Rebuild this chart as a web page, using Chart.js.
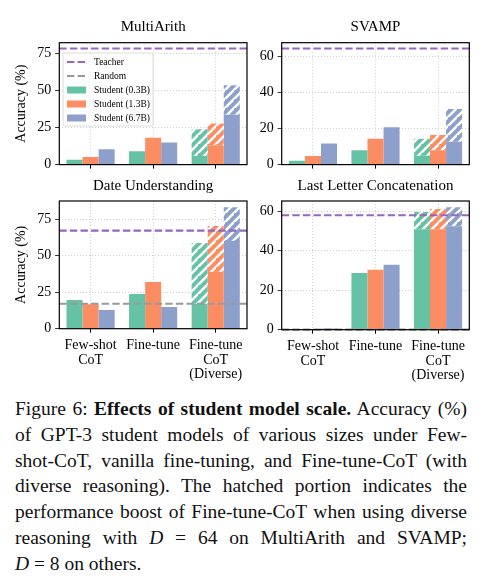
<!DOCTYPE html>
<html>
<head>
<meta charset="utf-8">
<script src="https://cdn.jsdelivr.net/npm/chart.js@4/dist/chart.umd.min.js"></script>
<style>
  body { margin: 0; background: #fff; width: 483px; height: 581px; position: relative; overflow: hidden; font-family: "Liberation Serif", "Times New Roman", Times, serif; }
  canvas.c { position: absolute; }
  #cap { position: absolute; left: 15px; top: 396px; width: 452px; font-size: 19.5px; line-height: 25.8px; color: #111; }
  #cap div { text-align: justify; text-align-last: justify; }
  #cap div.last { text-align-last: left; }
</style>
</head>
<body>
<canvas class="c" id="c1" width="250" height="177" style="left:0;top:0"></canvas>
<canvas class="c" id="c2" width="233" height="177" style="left:250px;top:0"></canvas>
<canvas class="c" id="c3" width="250" height="210" style="left:0;top:177px"></canvas>
<canvas class="c" id="c4" width="233" height="210" style="left:250px;top:177px"></canvas>
<div id="cap">
  <div>Figure 6: <b>Effects of student model scale.</b> Accuracy (%)</div>
  <div>of GPT-3 student models of various sizes under Few-</div>
  <div>shot-CoT, vanilla fine-tuning, and Fine-tune-CoT (with</div>
  <div>diverse reasoning). The hatched portion indicates the</div>
  <div>performance boost of Fine-tune-CoT when using diverse</div>
  <div>reasoning with <i>D</i> = 64 on MultiArith and SVAMP;</div>
  <div class="last"><i>D</i> = 8 on others.</div>
</div>
<script>
// categories and series
const methods = [['Few-shot', 'CoT'], 'Fine-tune', ['Fine-tune', 'CoT', '(Diverse)']];
const students = ['Student (0.3B)', 'Student (1.3B)', 'Student (6.7B)'];
const colors = ['#66c2a5', '#fc8d62', '#8da0cb'];

// MultiArith (few-shot, fine-tune, fine-tune-cot)
const multiS03 = [3.3, 9.0, 5.8];
const multiS13 = [5.2, 18.1, 13.1];
const multiS67 = [10.3, 14.9, 33.6];
const multiDiverse = [23.9, 27.8, 53.6];
const multiTeacher = 78.4;

// SVAMP
const svampS03 = [2.1, 7.9, 4.9];
const svampS13 = [4.8, 14.3, 7.9];
const svampS67 = [11.6, 20.6, 12.7];
const svampDiverse = [14.3, 16.4, 30.7];
const svampTeacher = 64.2;

// Date Understanding
const dateS03 = [19.7, 23.8, 17.1];
const dateS13 = [16.7, 32.0, 39.0];
const dateS67 = [12.8, 14.9, 60.1];
const dateDiverse = [58.7, 70.3, 83.2];
const dateTeacher = 67.2;
const dateRandom = 17.1;

// Last Letter Concatenation
const letterS03 = [0.1, 28.7, 50.8];
const letterS13 = [0.1, 30.3, 50.8];
const letterS67 = [0.6, 32.8, 52.3];
const letterDiverse = [59.5, 61.0, 62.0];
const letterTeacher = 57.9;
const letterRandom = 0;

const serif = '"Liberation Serif", "Times New Roman", Times, serif';

function hatch(color) {
  const c = document.createElement('canvas');
  c.width = 9; c.height = 9;
  const g = c.getContext('2d');
  g.fillStyle = color;
  g.fillRect(0, 0, 9, 9);
  g.strokeStyle = '#fff';
  g.lineWidth = 2.5;
  g.beginPath();
  g.moveTo(-1, 10); g.lineTo(10, -1);
  g.moveTo(-5.5, 4.5); g.lineTo(4.5, -5.5);
  g.moveTo(4.5, 13.5); g.lineTo(13.5, 4.5);
  g.stroke();
  return g.createPattern(c, 'repeat');
}

// teacher / random reference lines, drawn over the bars
const refLines = {
  id: 'refLines',
  afterDatasetsDraw(chart, args, o) {
    const {ctx, chartArea: a, scales: {y}} = chart;
    ctx.save();
    ctx.lineWidth = 2.2;
    ctx.setLineDash([7.4, 3.2]);
    [[o.random, '#999999'], [o.teacher, '#9467bd']].forEach(([v, col]) => {
      if (v === null || v === undefined) return;
      const py = y.getPixelForValue(v);
      ctx.strokeStyle = col;
      ctx.beginPath();
      ctx.moveTo(a.left, py);
      ctx.lineTo(a.right, py);
      ctx.stroke();
    });
    ctx.restore();
  }
};

// full box round the plot, like the matplotlib spines
const frame = {
  id: 'frame',
  afterDraw(chart) {
    const {ctx, chartArea: a} = chart;
    ctx.save();
    ctx.strokeStyle = '#000';
    ctx.lineWidth = 1.2;
    ctx.strokeRect(a.left, a.top, a.right - a.left, a.bottom - a.top);
    ctx.restore();
  }
};

// legend inside the first panel
const legendBox = {
  id: 'legendBox',
  afterDraw(chart, args, o) {
    if (!o.show) return;
    const {ctx, chartArea: a} = chart;
    const x = a.left + 3.7, y = a.top + 10.3, w = 90, h = 73;
    ctx.save();
    ctx.fillStyle = 'rgba(255,255,255,0.8)';
    ctx.strokeStyle = '#d6d6d6';
    ctx.lineWidth = 0.8;
    ctx.beginPath();
    ctx.roundRect(x, y, w, h, 2);
    ctx.fill();
    ctx.stroke();
    const items = [
      {label: 'Teacher', line: '#9467bd'},
      {label: 'Random', line: '#999999'},
      {label: students[0], box: colors[0]},
      {label: students[1], box: colors[1]},
      {label: students[2], box: colors[2]}
    ];
    ctx.font = '9.5px ' + serif;
    ctx.textBaseline = 'middle';
    items.forEach((it, i) => {
      const cy = y + 9 + i * 14;
      if (it.line) {
        ctx.strokeStyle = it.line;
        ctx.lineWidth = 2.2;
        ctx.setLineDash([7.4, 3.2]);
        ctx.beginPath();
        ctx.moveTo(x + 4, cy);
        ctx.lineTo(x + 23, cy);
        ctx.stroke();
        ctx.setLineDash([]);
      } else {
        ctx.fillStyle = it.box;
        ctx.fillRect(x + 4, cy - 3.5, 19, 7);
      }
      ctx.fillStyle = '#000';
      ctx.fillText(it.label, x + 31, cy + 0.5);
    });
    ctx.restore();
  }
};

function makeChart(id, o) {
  const series = o.series;
  const datasets = [];
  series.forEach((vals, i) => {
    datasets.push({label: students[i], data: vals, backgroundColor: colors[i], stack: 's' + i});
    datasets.push({
      label: students[i] + ' (diverse)',
      data: vals.map((v, j) => j === 2 ? o.diverse[i] - v : 0),
      backgroundColor: hatch(colors[i]),
      stack: 's' + i
    });
  });
  const grid = {color: '#c4c4c4', lineWidth: 0.8, tickColor: '#000', tickLength: 4, tickWidth: 1, tickBorderDash: [1, 0], offset: false};
  return new Chart(document.getElementById(id), {
    type: 'bar',
    data: {labels: methods, datasets},
    options: {
      responsive: false,
      animation: false,
      layout: {padding: {right: o.padRight}},
      datasets: {bar: {categoryPercentage: 0.77, barPercentage: 1.0, borderWidth: 0}},
      plugins: {
        legend: {display: false},
        tooltip: {enabled: false},
        title: {
          display: true, text: o.title, color: '#000', fullSize: false,
          font: {family: serif, size: 15, weight: 'normal', lineHeight: 1.2},
          padding: o.titlePad
        },
        refLines: {teacher: o.teacher, random: o.random},
        legendBox: {show: !!o.legend}
      },
      scales: {
        x: {
          offset: true,
          grid: grid,
          border: {display: false, dash: [1, 2]},
          ticks: {display: o.xLabels, color: '#000', maxRotation: 0, autoSkip: false, padding: 5.8,
                  font: {family: serif, size: 14, lineHeight: 1.03}},
          afterFit: s => { s.height = o.xh; }
        },
        y: {
          stacked: true, min: 0, max: o.max,
          grid: grid,
          border: {display: false, dash: [1, 2]},
          ticks: {stepSize: o.step, includeBounds: false, color: '#000', padding: 4,
                  font: {family: serif, size: 14}},
          title: {display: !!o.ytitle, text: 'Accuracy (%)', color: '#000',
                  font: {family: serif, size: 14, lineHeight: 1.2}, padding: {top: 13, bottom: 0}},
          afterFit: s => { s.width = o.yw; }
        }
      }
    },
    plugins: [refLines, frame, legendBox]
  });
}

makeChart('c1', {title: 'MultiArith', series: [multiS03, multiS13, multiS67], diverse: multiDiverse,
  teacher: multiTeacher, random: null, max: 82.3, step: 25, ytitle: true, legend: true,
  yw: 59.3, padRight: 3, xh: 7, xLabels: false, titlePad: {top: 17.8, bottom: 6.9}});
makeChart('c2', {title: 'SVAMP', series: [svampS03, svampS13, svampS67], diverse: svampDiverse,
  teacher: svampTeacher, random: null, max: 67.4, step: 20, ytitle: false,
  yw: 31.7, padRight: 13.7, xh: 7, xLabels: false, titlePad: {top: 17.8, bottom: 6.9}});
makeChart('c3', {title: 'Date Understanding', series: [dateS03, dateS13, dateS67], diverse: dateDiverse,
  teacher: dateTeacher, random: dateRandom, max: 87.5, step: 25, ytitle: true,
  yw: 59.3, padRight: 3, xh: 58.3, xLabels: true, titlePad: {top: 0, bottom: 6}});
makeChart('c4', {title: 'Last Letter Concatenation', series: [letterS03, letterS13, letterS67], diverse: letterDiverse,
  teacher: letterTeacher, random: letterRandom, max: 65.1, step: 20, ytitle: false,
  yw: 31.7, padRight: 13.7, xh: 57.3, xLabels: true, titlePad: {top: 0, bottom: 6}});
</script>
</body>
</html>
